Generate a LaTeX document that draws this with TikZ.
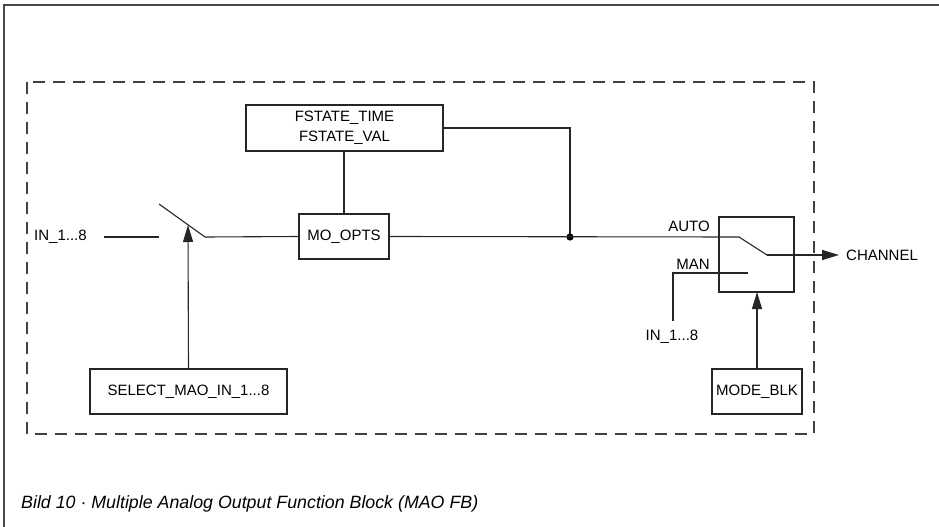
\documentclass[tikz,border=0pt]{standalone}
\usepackage{fontspec}
\setmainfont{Liberation Sans}
\usetikzlibrary{arrows.meta}
\begin{document}
\begin{tikzpicture}[x=1pt,y=-1pt,
  ln/.style={draw=black!85,line width=1.1pt},
  blk/.style={draw=black!85,line width=1.1pt,fill=white,inner sep=0pt,align=center,font=\fontsize{15}{20}\selectfont},
  lbl/.style={inner sep=0pt,font=\fontsize{15}{17}\selectfont},
  arr/.style={ln,-{Triangle[length=17pt,width=10pt]}},
  frame/.style={draw=black!72,line width=2pt}]
\useasboundingbox (0,0) rectangle (939,527);
% outer frame (top and left)
\draw[frame] (939,5) -- (4,5) -- (4,527);
% dashed function block border
\draw[draw=black!75,line width=1.1pt,dash pattern=on 12pt off 8pt] (27,82) rectangle (814,434);
% boxes
\node[blk,minimum width=197pt,minimum height=46pt] (fs) at (344.5,128) {FSTATE\_TIME\\FSTATE\_VAL};
\node[blk,minimum width=90pt,minimum height=45pt] (mo) at (344,236.5) {MO\_OPTS};
\node[blk,minimum width=197pt,minimum height=45pt] (sel) at (188.5,391.5) {SELECT\_MAO\_IN\_1...8};
\node[blk,minimum width=90pt,minimum height=45pt] (mb) at (757,391.5) {MODE\_BLK};
\node[draw=black!85,line width=1.1pt,inner sep=0pt,minimum width=75pt,minimum height=75pt] (sw) at (756.5,254.5) {};
% labels
\node[lbl,anchor=west] (in1) at (34,237) {IN\_1...8};
\node[lbl,anchor=west] (ch) at (846,255) {CHANNEL};
\node[lbl,anchor=east] (auto) at (710,226) {AUTO};
\node[lbl,anchor=east] (man) at (710,264) {MAN};
\node[lbl] (in2) at (672,337) {IN\_1...8};
% coordinates
\coordinate (a1) at (104,237);
\coordinate (s1a) at (159,237);
\coordinate (s1t) at (159,204);
\coordinate (s1b) at (205,237);
\coordinate (tip1) at (188,225);
\coordinate (jn) at (570,237);
\coordinate (c1) at (570,128);
\coordinate (s2a) at (739,237);
\coordinate (s2b) at (767,255);
\coordinate (tip2) at (839,255);
\coordinate (m1) at (748,273);
\coordinate (m2) at (673,273);
\coordinate (m3) at (673,321);
\coordinate (tip3) at (757,292);
% connectors
\draw[ln] (a1) -- (s1a);
\draw[ln] (s1t) -- (s1b) -- (mo.west);
\draw[arr] (sel.north) -- (tip1);
\draw[ln] (mo.north) -- (fs.south -| mo.north);
\draw[ln] (fs.east) -- (c1) -- (jn);
\fill[black] (jn) circle (3.6pt);
\draw[ln] (mo.east) -- (s2a) -- (s2b);
\draw[arr] (s2b) -- (tip2);
\draw[ln] (m1) -- (m2) -- (m3);
\draw[arr] (mb.north) -- (tip3);
% caption
\node[inner sep=0pt,anchor=base west,font=\fontsize{17.8}{20}\selectfont\itshape] (cap) at (21,508) {Bild 10 · Multiple Analog Output Function Block (MAO FB)};
\end{tikzpicture}
\end{document}
